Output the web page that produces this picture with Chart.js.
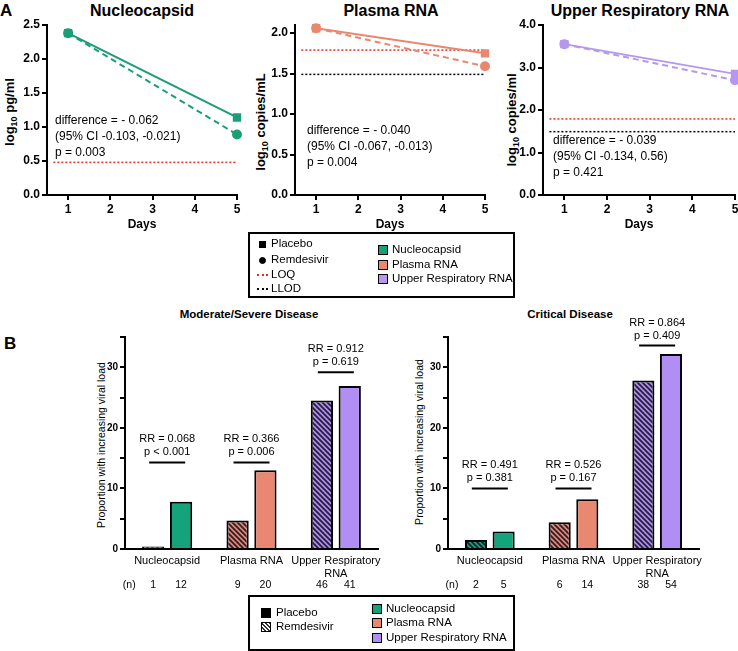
<!DOCTYPE html>
<html>
<head>
<meta charset="utf-8">
<script src="https://cdn.jsdelivr.net/npm/chart.js@4.4.1/dist/chart.umd.min.js"></script>
<style>
body { margin: 0; width: 738px; height: 651px; position: relative; overflow: hidden; background: #fff;
       font-family: "Liberation Sans", Arial, sans-serif; color: #000; }
canvas { position: absolute; }
.t { position: absolute; white-space: nowrap; line-height: 1; }
.c { transform: translate(-50%, -50%); }
.rot { transform: translate(-50%, -50%) rotate(-90deg); }
.panel { font-weight: bold; font-size: 17px; }
.title { font-weight: bold; font-size: 16px; }
.ytitle { font-weight: bold; font-size: 13px; }
.stat { font-size: 12px; line-height: 16px; }
.sub { font-weight: bold; font-size: 11.5px; }
.box { position: absolute; border: 2px solid #000; box-sizing: border-box; }
.lg { position: absolute; font-size: 11.5px; white-space: nowrap; line-height: 1; transform: translateY(-50%); }
.sw { position: absolute; box-sizing: border-box; border: 1px solid #000; }
</style>
</head>
<body>
<!-- panel A -->
<div class="t panel" style="left:0px;top:2px">A</div>
<div class="t title c" style="left:142px;top:11px">Nucleocapsid</div>
<div class="t title c" style="left:391px;top:11px">Plasma RNA</div>
<div class="t title c" style="left:640px;top:11px">Upper Respiratory RNA</div>
<div class="t ytitle rot" style="left:11px;top:112px">log<sub style="font-size:9px">10</sub> pg/ml</div>
<div class="t ytitle rot" style="left:262px;top:122px">log<sub style="font-size:9px">10</sub> copies/mL</div>
<div class="t ytitle rot" style="left:513px;top:120px">log<sub style="font-size:9px">10</sub> copies/ml</div>

<canvas id="nucLine" width="245" height="235" style="left:0px;top:0px"></canvas>
<canvas id="plasmaLine" width="245" height="235" style="left:248px;top:0px"></canvas>
<canvas id="upperLine" width="247" height="235" style="left:496px;top:0px"></canvas>

<div class="t stat" style="left:55px;top:112px">difference = - 0.062<br>(95% CI -0.103, -0.021)<br>p = 0.003</div>
<div class="t stat" style="left:307px;top:122px">difference = - 0.040<br>(95% CI -0.067, -0.013)<br>p = 0.004</div>
<div class="t stat" style="left:553px;top:132px">difference = - 0.039<br>(95% CI -0.134, 0.56)<br>p = 0.421</div>

<div class="box" style="left:248px;top:232px;width:267px;height:66px"></div>
<div class="sw" style="left:259px;top:241px;width:7px;height:7px;background:#000"></div>
<div class="lg" style="left:271px;top:244px">Placebo</div>
<div class="sw" style="left:259px;top:257px;width:7px;height:7px;background:#000;border-radius:50%"></div>
<div class="lg" style="left:271px;top:260px">Remdesivir</div>
<div class="t" style="left:257px;top:274px;width:11px;border-top:2px dotted #e3301e"></div>
<div class="lg" style="left:271px;top:275px">LOQ</div>
<div class="t" style="left:257px;top:288px;width:11px;border-top:2px dotted #000"></div>
<div class="lg" style="left:271px;top:289px">LLOD</div>
<div class="sw" style="left:378px;top:245px;width:10px;height:10px;background:#1b9e77"></div>
<div class="lg" style="left:392px;top:250px">Nucleocapsid</div>
<div class="sw" style="left:378px;top:260px;width:10px;height:10px;background:#ea8770"></div>
<div class="lg" style="left:392px;top:265px">Plasma RNA</div>
<div class="sw" style="left:378px;top:274px;width:10px;height:10px;background:#b597f0"></div>
<div class="lg" style="left:392px;top:279px">Upper Respiratory RNA</div>

<!-- panel B -->
<div class="t panel" style="left:4px;top:335px">B</div>
<div class="t sub c" style="left:249px;top:315px">Moderate/Severe Disease</div>
<div class="t sub c" style="left:570px;top:315px">Critical Disease</div>
<div class="t rot" style="left:101px;top:445px;font-size:10.5px">Proportion with increasing viral load</div>
<div class="t rot" style="left:419px;top:442px;font-size:10.5px">Proportion with increasing viral load</div>

<canvas id="modBar" width="334" height="300" style="left:60px;top:300px"></canvas>
<canvas id="critBar" width="327" height="300" style="left:390px;top:300px"></canvas>

<div class="box" style="left:248px;top:595px;width:267px;height:56px"></div>
<div class="sw" style="left:261px;top:608px;width:10px;height:10px;background:#000"></div>
<div class="lg" style="left:276px;top:613px">Placebo</div>
<div class="sw" id="hatchSwatch" style="left:261px;top:622px;width:10px;height:10px"></div>
<div class="lg" style="left:276px;top:627px">Remdesivir</div>
<div class="sw" style="left:372px;top:604px;width:10px;height:10px;background:#14a37a"></div>
<div class="lg" style="left:386px;top:609px">Nucleocapsid</div>
<div class="sw" style="left:372px;top:618px;width:10px;height:10px;background:#ea8770"></div>
<div class="lg" style="left:386px;top:623px">Plasma RNA</div>
<div class="sw" style="left:372px;top:633px;width:10px;height:10px;background:#b08ef4"></div>
<div class="lg" style="left:386px;top:638px">Upper Respiratory RNA</div>

<script>
// panel A: log10 values on day 1 and day 5
var days = [1, 5];
var dayTicks = [1, 2, 3, 4, 5];
var nucleoPlacebo = [2.38, 1.14];
var nucleoRemdesivir = [2.38, 0.89];
var plasmaPlacebo = [2.06, 1.75];
var plasmaRemdesivir = [2.06, 1.59];
var upperPlacebo = [3.55, 2.85];
var upperRemdesivir = [3.55, 2.70];
var loqLevels = [0.48, 1.79, 1.79];
var llodLevels = [null, 1.49, 1.49];

// panel B: proportion with increasing viral load
var barCategories = ['Nucleocapsid', 'Plasma RNA', ['Upper Respiratory', 'RNA']];
var modRemdesivir = [0.4, 4.7, 24.5];
var modPlacebo = [7.8, 13.0, 26.9];
var critRemdesivir = [1.5, 4.4, 27.8];
var critPlacebo = [2.9, 8.2, 32.2];
var modNRemdesivir = [1, 9, 46];
var modNPlacebo = [12, 20, 41];
var critNRemdesivir = [2, 6, 38];
var critNPlacebo = [5, 14, 54];
var modRR = ['RR = 0.068', 'RR = 0.366', 'RR = 0.912'];
var modP = ['p < 0.001', 'p = 0.006', 'p = 0.619'];
var critRR = ['RR = 0.491', 'RR = 0.526', 'RR = 0.864'];
var critP = ['p = 0.381', 'p = 0.167', 'p = 0.409'];

var FONT = '"Liberation Sans", Arial, sans-serif';
Chart.defaults.font.family = FONT;
Chart.defaults.color = '#000';

var green = '#1b9e77', salmon = '#ea8770', lilac = '#b597f0';
var barColors = ['#14a37a', '#ea8770', '#b08ef4'];

function pts(vals) {
    return days.map(function(d, i) { return {x: d, y: vals[i]}; });
}

function lineChart(id, color, placebo, remdesivir, loq, llod, yMax, yStep, padRight) {
    var sets = [
        {data: pts(placebo), borderColor: color, backgroundColor: color, borderWidth: 2,
         pointStyle: 'rect', pointRadius: 4.5, clip: false},
        {data: pts(remdesivir), borderColor: color, backgroundColor: color, borderWidth: 2,
         borderDash: [6, 4], pointStyle: 'circle', pointRadius: 4, clip: false}
    ];
    if (loq != null) {
        sets.push({data: [{x: 0.65, y: loq}, {x: 5, y: loq}], borderColor: '#e3301e',
                   borderWidth: 1.5, borderDash: [2, 2], pointRadius: 0});
    }
    if (llod != null) {
        sets.push({data: [{x: 0.65, y: llod}, {x: 5, y: llod}], borderColor: '#000',
                   borderWidth: 1.5, borderDash: [2, 2], pointRadius: 0});
    }
    new Chart(document.getElementById(id), {
        type: 'line',
        data: {datasets: sets},
        options: {
            responsive: false,
            animation: false,
            layout: {padding: {top: 25, right: padRight, bottom: 0, left: 0}},
            plugins: {legend: {display: false}, tooltip: {enabled: false}},
            scales: {
                x: {
                    type: 'linear', min: 0.5, max: 5,
                    afterBuildTicks: function(s) { s.ticks = dayTicks.map(function(v) { return {value: v}; }); },
                    afterFit: function(s) { s.height = 40; },
                    ticks: {font: {weight: 'bold', size: 12}, color: '#000', padding: 2},
                    grid: {drawOnChartArea: false, color: '#000', lineWidth: 2, tickLength: 5},
                    border: {color: '#000', width: 2},
                    title: {display: true, text: 'Days', color: '#000', font: {weight: 'bold', size: 12},
                            padding: {top: 2, bottom: 3}}
                },
                y: {
                    min: 0, max: yMax,
                    afterBuildTicks: function(s) {
                        var t = [];
                        for (var v = 0; v <= yMax + 1e-9; v += yStep) t.push({value: Math.round(v * 10) / 10});
                        s.ticks = t;
                    },
                    afterFit: function(s) { s.width = 47; },
                    ticks: {font: {weight: 'bold', size: 12}, color: '#000', padding: 2,
                            callback: function(v) { return Number(v).toFixed(1); }},
                    grid: {drawOnChartArea: false, color: '#000', lineWidth: 2, tickLength: 5},
                    border: {color: '#000', width: 2}
                }
            }
        }
    });
}

lineChart('nucLine', green, nucleoPlacebo, nucleoRemdesivir, loqLevels[0], llodLevels[0], 2.5, 0.5, 8);
lineChart('plasmaLine', salmon, plasmaPlacebo, plasmaRemdesivir, loqLevels[1], llodLevels[1], 2.1, 0.5, 8);
lineChart('upperLine', lilac, upperPlacebo, upperRemdesivir, loqLevels[2], llodLevels[2], 4.0, 1.0, 8);

function hatch(color) {
    var c = document.createElement('canvas');
    c.width = 5; c.height = 5;
    var g = c.getContext('2d');
    g.fillStyle = color;
    g.fillRect(0, 0, 5, 5);
    g.strokeStyle = 'rgba(30,25,40,0.95)';
    g.lineWidth = 1.8;
    g.beginPath();
    g.moveTo(-1, -1); g.lineTo(6, 6);
    g.moveTo(-1, 4); g.lineTo(1, 6);
    g.moveTo(4, -1); g.lineTo(6, 1);
    g.stroke();
    return g.createPattern(c, 'repeat');
}

document.getElementById('hatchSwatch').style.background =
    'repeating-linear-gradient(45deg, #fff 0 1.5px, #333 1.5px 3px)';

// RR / p brackets and the (n) row under the bars
var bracketPlugin = {
    id: 'brackets',
    afterDraw: function(chart, args, opts) {
        var ctx = chart.ctx, y = chart.scales.y;
        var m0 = chart.getDatasetMeta(0).data, m1 = chart.getDatasetMeta(1).data;
        ctx.save();
        ctx.fillStyle = '#000';
        ctx.strokeStyle = '#000';
        ctx.textAlign = 'center';
        ctx.textBaseline = 'middle';
        ctx.font = '11px ' + FONT;
        opts.rr.forEach(function(txt, i) {
            var cx = (m0[i].x + m1[i].x) / 2;
            var ly = y.getPixelForValue(opts.at[i]);
            ctx.lineWidth = 2;
            ctx.beginPath();
            ctx.moveTo(cx - 18, ly); ctx.lineTo(cx + 18, ly);
            ctx.stroke();
            ctx.fillText(txt, cx, ly - 23);
            ctx.fillText(opts.p[i], cx, ly - 10);
        });
        var base = y.getPixelForValue(0) + 36;
        ctx.font = '10.5px ' + FONT;
        ctx.fillText('(n)', m0[0].x - 24, base);
        m0.forEach(function(b, i) { ctx.fillText(String(opts.nRem[i]), b.x, base); });
        m1.forEach(function(b, i) { ctx.fillText(String(opts.nPla[i]), b.x, base); });
        ctx.restore();
    }
};

function barChart(id, remdesivir, placebo, nRem, nPla, rr, p, bracketAt, yWidth, padRight) {
    new Chart(document.getElementById(id), {
        type: 'bar',
        data: {
            labels: barCategories,
            datasets: [
                {label: 'Remdesivir', data: remdesivir, backgroundColor: barColors.map(hatch),
                 borderColor: '#000', borderWidth: 2, categoryPercentage: 0.66, barPercentage: 0.8},
                {label: 'Placebo', data: placebo, backgroundColor: barColors,
                 borderColor: '#000', borderWidth: 2, categoryPercentage: 0.66, barPercentage: 0.8}
            ]
        },
        plugins: [bracketPlugin],
        options: {
            responsive: false,
            animation: false,
            layout: {padding: {top: 37, right: padRight, bottom: 0, left: 0}},
            plugins: {
                legend: {display: false},
                tooltip: {enabled: false},
                brackets: {rr: rr, p: p, at: bracketAt, nRem: nRem, nPla: nPla}
            },
            scales: {
                x: {
                    ticks: {font: {size: 11}, color: '#000', padding: 5, maxRotation: 0, autoSkip: false},
                    grid: {display: false, drawTicks: false},
                    border: {display: true, color: '#000', width: 2},
                    afterFit: function(s) { s.height = 51; }
                },
                y: {
                    min: 0, max: 35,
                    ticks: {stepSize: 5, autoSkip: false, font: {weight: 'bold', size: 10}, color: '#000', padding: 2,
                            callback: function(v) { return v % 10 === 0 ? v : ''; }},
                    grid: {drawOnChartArea: false, color: '#000', lineWidth: 2, tickLength: 5},
                    border: {color: '#000', width: 2},
                    afterFit: function(s) { s.width = yWidth; }
                }
            }
        }
    });
}

barChart('modBar', modRemdesivir, modPlacebo, modNRemdesivir, modNPlacebo, modRR, modP,
         [14.3, 14.3, 29.2], 65, 16);
barChart('critBar', critRemdesivir, critPlacebo, critNRemdesivir, critNPlacebo, critRR, critP,
         [10.0, 10.0, 33.6], 58, 18);
</script>
</body>
</html>
